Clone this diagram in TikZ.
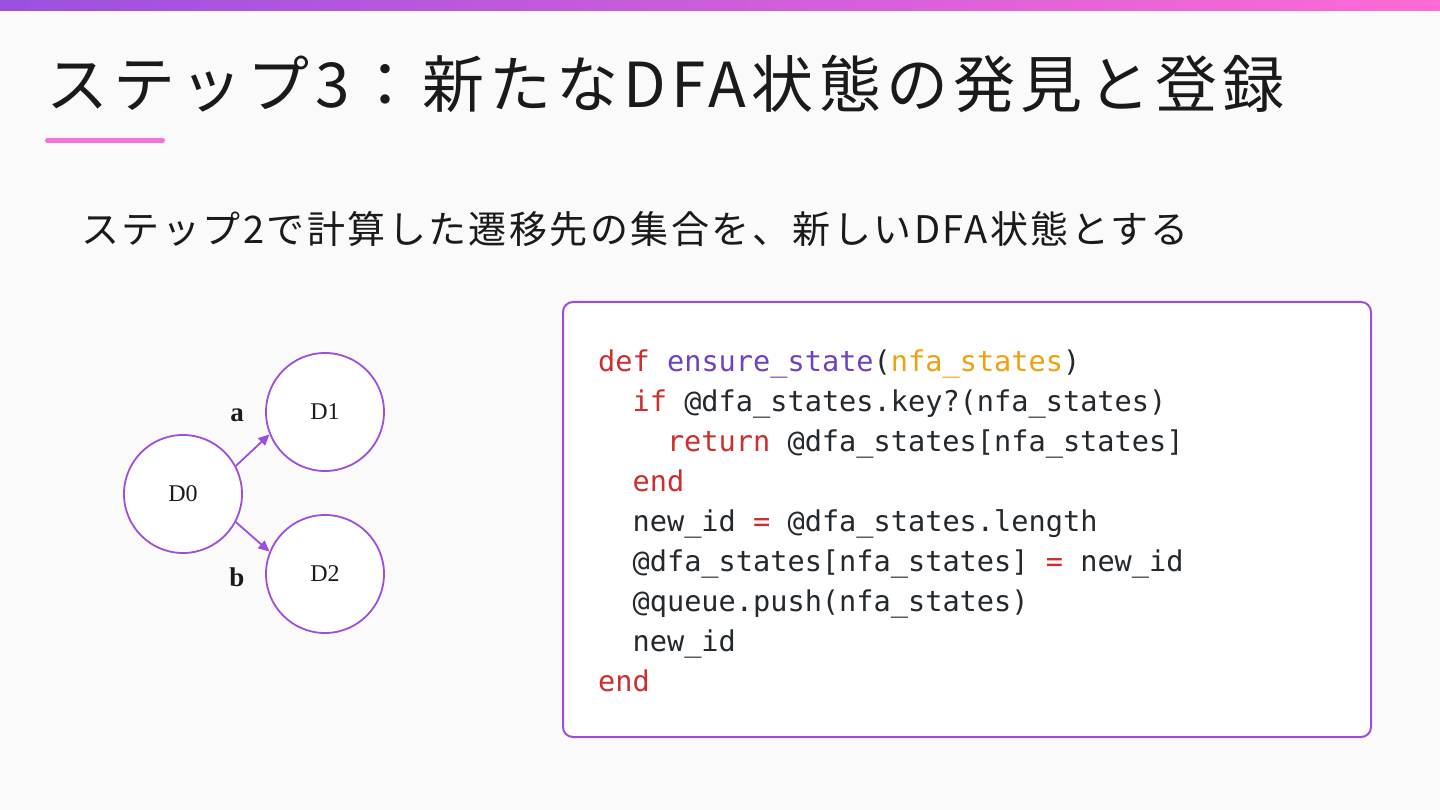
\documentclass[tikz,border=0pt]{standalone}
\usepackage{fontspec}
\newfontfamily\jptitle[LetterSpace=8.5]{Noto Sans CJK JP}
\newfontfamily\jpsub[LetterSpace=6.5]{Noto Sans CJK JP}
\newfontfamily\codefont{DejaVu Sans Mono}
\newfontfamily\labfont{Liberation Serif}
\usetikzlibrary{arrows.meta}
\definecolor{bg}{HTML}{FAFAFA}
\definecolor{gradL}{HTML}{9B50E0}
\definecolor{gradR}{HTML}{FF6AD5}
\definecolor{accent}{HTML}{F472D6}
\definecolor{circ}{HTML}{9D4EDD}
\definecolor{ink}{HTML}{1A1A1A}
\definecolor{codeink}{HTML}{24292E}
\definecolor{kw}{HTML}{CF2E2E}
\definecolor{fn}{HTML}{6F42C1}
\definecolor{arg}{HTML}{F0A010}
\tikzset{
  state/.style={circle, draw=circ, line width=1.8pt, fill=white, minimum size=118pt, inner sep=0pt, font=\labfont\fontsize{24}{28}\selectfont, text=ink},
  edgelab/.style={font=\labfont\fontsize{27}{32}\selectfont\bfseries, text=ink, inner sep=0pt},
  arr/.style={draw=circ, line width=1.8pt, -{Triangle[length=11pt,width=10pt]}},
  codeline/.style={anchor=base west, inner sep=0pt, font=\codefont\fontsize{28.6}{34}\selectfont, text=codeink}
}
\begin{document}
\begin{tikzpicture}[x=1pt,y=-1pt]
\useasboundingbox (0,0) rectangle (1440,810);
\fill[bg] (0,0) rectangle (1440,810);
\shade[left color=gradL, right color=gradR] (0,0) rectangle (1440,11);
\node[anchor=west, inner sep=0pt, text=ink, font=\jptitle\fontsize{62}{70}\selectfont] (title) at (46,84) {ステップ3：新たなDFA状態の発見と登録};
\draw[accent, line width=5pt, line cap=round] (47.5,140.5) -- (162.5,140.5);
\node[anchor=west, inner sep=0pt, text=ink, font=\jpsub\fontsize{38}{44}\selectfont] (sub) at (81,229) {ステップ2で計算した遷移先の集合を、新しいDFA状態とする};
% graph
\node[state] (d0) at (183,494) {D0};
\node[state] (d1) at (325,412) {D1};
\node[state] (d2) at (325,574) {D2};
\draw[arr] (d0.28) -- (d1.202);
\draw[arr] (d0.-28) -- (d2.158);
\node[edgelab] (la) at (237,415) {a};
\node[edgelab] (lb) at (237,577) {b};
% code box
\draw[draw=circ, line width=2pt, fill=white, rounded corners=10pt] (563,302) rectangle (1371,737);
\node[codeline] (c1) at (598,371) {\textcolor{kw}{def} \textcolor{fn}{ensure\_state}(\textcolor{arg}{nfa\_states})};
\node[codeline] (c2) at (632.4,411) {\textcolor{kw}{if} @dfa\_states.key?(nfa\_states)};
\node[codeline] (c3) at (666.8,451) {\textcolor{kw}{return} @dfa\_states[nfa\_states]};
\node[codeline] (c4) at (632.4,491) {\textcolor{kw}{end}};
\node[codeline] (c5) at (632.4,531) {new\_id \textcolor{kw}{=} @dfa\_states.length};
\node[codeline] (c6) at (632.4,571) {@dfa\_states[nfa\_states] \textcolor{kw}{=} new\_id};
\node[codeline] (c7) at (632.4,611) {@queue.push(nfa\_states)};
\node[codeline] (c8) at (632.4,651) {new\_id};
\node[codeline] (c9) at (598,691) {\textcolor{kw}{end}};
\end{tikzpicture}
\end{document}
